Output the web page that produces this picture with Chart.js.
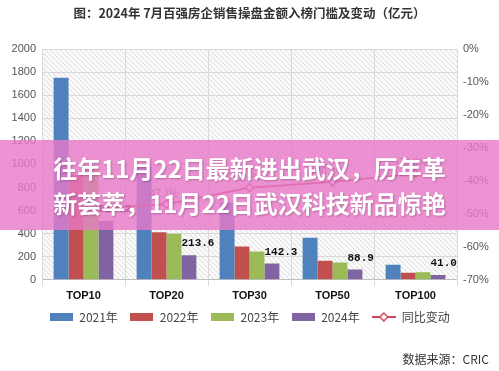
<!DOCTYPE html>
<html>
<head>
<meta charset="utf-8">
<script src="https://cdn.jsdelivr.net/npm/chart.js@4.4.1/dist/chart.umd.min.js"></script>
<style>
  html, body { margin: 0; padding: 0; background: #fff; }
  #wrap { position: relative; width: 499px; height: 371px; overflow: hidden; }
  #banner {
    position: absolute; left: 0; top: 140px; width: 499px; height: 90px;
    background: rgba(232, 120, 200, 0.8);
    color: #fff; font: bold 24px "Noto Sans CJK SC", sans-serif;
    line-height: 35px; text-align: center; box-sizing: border-box; padding-top: 10px;
    text-shadow: 1px 1px 2px rgba(90, 30, 70, 0.35);
  }
  #source {
    position: absolute; right: 10px; top: 350px;
    font: 12px "Noto Sans CJK SC", sans-serif; color: #333;
  }
</style>
</head>
<body>
<div id="wrap">
  <canvas id="chart" width="499" height="371"></canvas>
  <div id="banner">往年11月22日最新进出武汉，历年革<br>新荟萃，11月22日武汉科技新品惊艳</div>
  <div id="source">数据来源：CRIC</div>
</div>
<script>
  // ─── Data ────────────────────────────────────────────────────────────────────
  const categories = ["TOP10", "TOP20", "TOP30", "TOP50", "TOP100"];
  const years = ["2021年", "2022年", "2023年", "2024年"];
  const v2021 = [1750, 980, 670, 365, 131];
  const v2022 = [910, 413, 288, 166, 62];
  const v2023 = [990, 398, 245, 149, 66];
  const v2024 = [510.2, 213.6, 142.3, 88.9, 41.0];
  const yoyChange = [-48.5, -47.1, -42.1, -40.3, -37.8];
  const lineLabel = "同比变动";
  const titleText = "图：2024年 7月百强房企销售操盘金额入榜门槛及变动（亿元）";

  const barColors = ["#4f81bd", "#c0504d", "#9bbb59", "#8064a2"];
  const lineColor = "#d0485a";

  // ─── Helpers ─────────────────────────────────────────────────────────────────

  function hatchPattern(ctx) {
    const c = document.createElement("canvas");
    c.width = 5; c.height = 5;
    const g = c.getContext("2d");
    g.fillStyle = "#fafafa";
    g.fillRect(0, 0, 5, 5);
    g.strokeStyle = "#dcdcdc";
    g.lineWidth = 1;
    g.beginPath();
    g.moveTo(0, 0); g.lineTo(5, 5);
    g.moveTo(-1, 4); g.lineTo(1, 6);
    g.moveTo(4, -1); g.lineTo(6, 1);
    g.stroke();
    return ctx.createPattern(c, "repeat");
  }

  function boxIcon(color) {
    const c = document.createElement("canvas");
    c.width = 23; c.height = 8;
    const g = c.getContext("2d");
    g.fillStyle = color;
    g.fillRect(0, 0, 23, 8);
    return c;
  }

  function lineIcon(color) {
    const c = document.createElement("canvas");
    c.width = 24; c.height = 10;
    const g = c.getContext("2d");
    g.strokeStyle = color; g.lineWidth = 2;
    g.beginPath(); g.moveTo(0, 5); g.lineTo(24, 5); g.stroke();
    g.fillStyle = "#fff"; g.lineWidth = 1.5;
    g.beginPath(); g.moveTo(12, 1); g.lineTo(16, 5); g.lineTo(12, 9); g.lineTo(8, 5); g.closePath();
    g.fill(); g.stroke();
    return c;
  }

  // plot background hatch
  const hatchBg = {
    id: "hatchBg",
    beforeDraw(chart) {
      const { ctx, chartArea: a } = chart;
      ctx.save();
      ctx.fillStyle = hatchPattern(ctx);
      ctx.fillRect(a.left, a.top, a.right - a.left, a.bottom - a.top);
      ctx.restore();
    },
  };

  // value labels on 2024 bars and on the line points
  const valueLabels = {
    id: "valueLabels",
    afterDatasetsDraw(chart) {
      const ctx = chart.ctx;
      ctx.save();
      ctx.textBaseline = "bottom";
      const barMeta = chart.getDatasetMeta(3);
      ctx.font = "bold 11px 'Liberation Mono', monospace";
      ctx.fillStyle = "#111";
      ctx.textAlign = "left";
      barMeta.data.forEach((el, i) => {
        ctx.fillText(v2024[i].toFixed(1), el.x - el.width / 2, el.y - 6);
      });
      const lineMeta = chart.getDatasetMeta(4);
      ctx.textAlign = "center";
      ctx.font = "10px 'Noto Sans CJK SC', sans-serif";
      ctx.fillStyle = "#666";
      lineMeta.data.forEach((el, i) => {
        ctx.fillText(yoyChange[i].toFixed(1) + "%", el.x - 4, el.y - 6);
      });
      ctx.restore();
    },
  };

  // ─── Chart ───────────────────────────────────────────────────────────────────

  const barSets = [v2021, v2022, v2023, v2024].map((d, i) => ({
    type: "bar",
    label: years[i],
    data: d,
    backgroundColor: barColors[i],
    yAxisID: "y",
    barPercentage: 1,
    categoryPercentage: 0.72,
    order: 2,
  }));

  new Chart(document.getElementById("chart"), {
    data: {
      labels: categories,
      datasets: barSets.concat([{
        type: "line",
        label: lineLabel,
        data: yoyChange,
        yAxisID: "y1",
        borderColor: lineColor,
        borderWidth: 2,
        pointStyle: "rectRot",
        pointRadius: 4,
        pointBackgroundColor: "#fff",
        pointBorderColor: lineColor,
        pointBorderWidth: 1.5,
        tension: 0,
        order: 1,
      }]),
    },
    options: {
      responsive: false,
      animation: false,
      layout: { padding: { top: 4, left: 0, right: 0, bottom: 38 } },
      plugins: {
        title: {
          display: true, text: titleText, color: "#333",
          font: { size: 12.5, weight: "bold", family: "'Noto Sans CJK SC', sans-serif" },
          padding: { top: 2, bottom: 28 },
        },
        legend: {
          position: "bottom",
          labels: {
            usePointStyle: true,
            pointStyleWidth: 24,
            padding: 12,
            color: "#444",
            font: { size: 12, family: "'Noto Sans CJK SC', sans-serif" },
            generateLabels(chart) {
              return chart.data.datasets.map((ds, i) => ({
                text: ds.label,
                pointStyle: ds.type === "line" ? lineIcon(lineColor) : boxIcon(barColors[i]),
                fillStyle: "#fff",
                strokeStyle: "#fff",
                lineWidth: 0,
                datasetIndex: i,
                fontColor: "#444",
              }));
            },
          },
        },
        tooltip: { enabled: false },
      },
      scales: {
        x: {
          grid: { color: "#d9d9d9", tickLength: 6, offset: true },
          border: { color: "#bfbfbf" },
          ticks: { color: "#111", font: { size: 11, weight: "bold", family: "'Liberation Sans', sans-serif" }, padding: 4 },
          afterFit(s) { s.height -= 8; },
        },
        y: {
          position: "left", min: 0, max: 2000,
          ticks: { stepSize: 200, color: "#555", font: { size: 11, family: "'Liberation Sans', sans-serif" }, padding: 6,
                   callback: (v) => String(v) },
          grid: { color: "#d9d9d9", drawTicks: false },
          border: { color: "#d9d9d9" },
          afterFit(s) { s.width = 42; },
        },
        y1: {
          position: "right", min: -70, max: 0,
          ticks: { stepSize: 10, color: "#555", font: { size: 11, family: "'Liberation Sans', sans-serif" }, padding: 6,
                   callback: (v) => v + "%" },
          grid: { display: false, drawTicks: false },
          border: { color: "#d9d9d9" },
          afterFit(s) { s.width = 42; },
        },
      },
    },
    plugins: [hatchBg, valueLabels],
  });
</script>
</body>
</html>
